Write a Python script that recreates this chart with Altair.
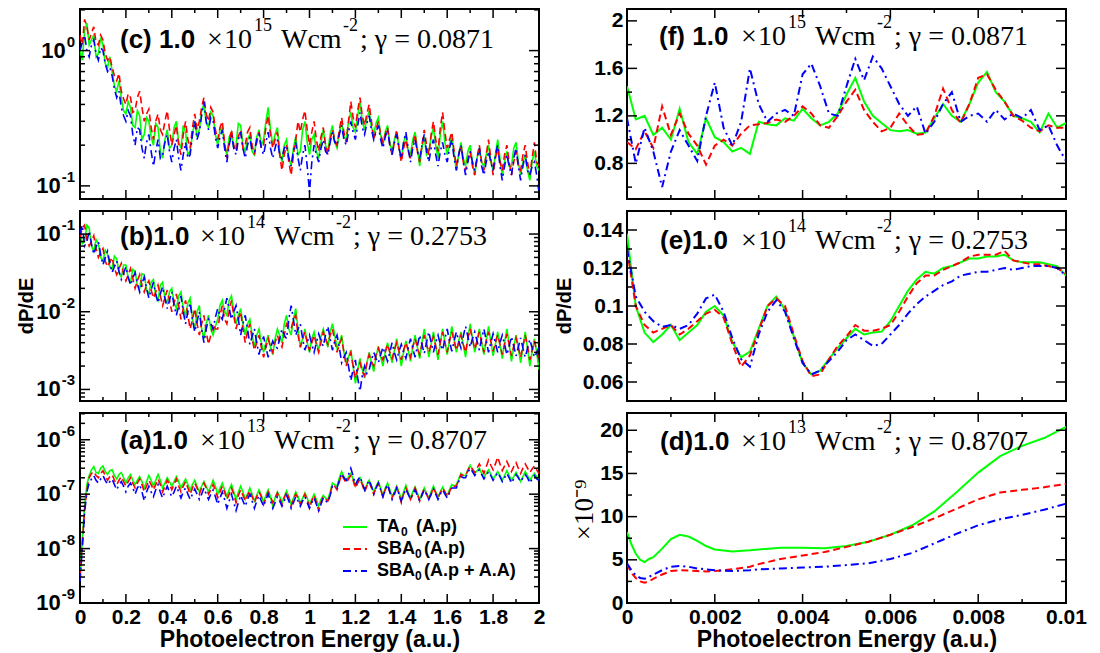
import altair as alt
import pandas as pd

# ---------------- x grids ----------------
x_left = [round(i * 0.01, 2) for i in range(201)]
x_fe = [round(i * 0.0002, 4) for i in range(51)]
x_d = [0, 0.0001, 0.0002, 0.0003, 0.0004, 0.0005, 0.0006, 0.0008, 0.001, 0.0012,
       0.0014, 0.0016, 0.0018, 0.002, 0.0024, 0.0028, 0.003, 0.0035, 0.004, 0.0045,
       0.005, 0.0055, 0.006, 0.0065, 0.007, 0.0075, 0.008, 0.0085, 0.009, 0.0095, 0.01]

# ---------------- panel (c) 1e15 ----------------
c_ta = [1.0, 0.85, 1.4, 1.6, 1.1, 1.2, 1.3, 0.9, 0.95, 1.25,
        1.1, 0.8, 0.75, 0.9, 0.7, 0.55, 0.5, 0.6, 0.45, 0.36,
        0.34, 0.42, 0.38, 0.28, 0.27, 0.36, 0.33, 0.22, 0.24, 0.32,
        0.3, 0.23, 0.2, 0.29, 0.27, 0.18, 0.16, 0.22, 0.26, 0.19,
        0.2, 0.27, 0.3, 0.21, 0.19, 0.28, 0.25, 0.17, 0.18, 0.24,
        0.3, 0.23, 0.26, 0.36, 0.4, 0.29, 0.27, 0.35, 0.33, 0.24,
        0.2, 0.26, 0.27, 0.2, 0.17, 0.23, 0.25, 0.19, 0.2, 0.29,
        0.28, 0.2, 0.18, 0.22, 0.24, 0.18, 0.17, 0.23, 0.26, 0.2,
        0.22, 0.3, 0.38, 0.26, 0.2, 0.24, 0.27, 0.18, 0.15, 0.2,
        0.22, 0.16, 0.14, 0.19, 0.23, 0.17, 0.18, 0.26, 0.3, 0.21,
        0.17, 0.22, 0.24, 0.18, 0.16, 0.21, 0.26, 0.2, 0.18, 0.24,
        0.28, 0.21, 0.19, 0.25, 0.3, 0.23, 0.22, 0.3, 0.35, 0.27,
        0.25, 0.33, 0.42, 0.3, 0.26, 0.31, 0.36, 0.27, 0.24, 0.29,
        0.32, 0.24, 0.2, 0.25, 0.28, 0.21, 0.18, 0.22, 0.25, 0.19,
        0.16, 0.21, 0.24, 0.18, 0.17, 0.22, 0.25, 0.19, 0.14, 0.19,
        0.23, 0.17, 0.18, 0.23, 0.27, 0.2, 0.16, 0.24, 0.3, 0.21,
        0.17, 0.2, 0.24, 0.17, 0.13, 0.17, 0.21, 0.16, 0.14, 0.18,
        0.2, 0.15, 0.12, 0.16, 0.19, 0.15, 0.14, 0.17, 0.2, 0.15,
        0.13, 0.17, 0.22, 0.16, 0.12, 0.15, 0.18, 0.14, 0.14, 0.19,
        0.21, 0.15, 0.12, 0.15, 0.17, 0.13, 0.11, 0.15, 0.18, 0.14,
        0.13]
c_sba = [1.3, 1.1, 1.7, 1.5, 1.2, 1.35, 1.5, 1.15, 1.1, 1.3,
         1.2, 0.95, 0.85, 0.9, 0.75, 0.65, 0.6, 0.68, 0.5, 0.44,
         0.4, 0.48, 0.45, 0.35, 0.36, 0.45, 0.5, 0.38, 0.3, 0.34,
         0.37, 0.27, 0.22, 0.3, 0.34, 0.26, 0.24, 0.3, 0.36, 0.26,
         0.2, 0.24, 0.28, 0.2, 0.17, 0.24, 0.3, 0.22, 0.19, 0.27,
         0.34, 0.26, 0.3, 0.38, 0.45, 0.34, 0.3, 0.38, 0.35, 0.26,
         0.22, 0.27, 0.3, 0.21, 0.16, 0.21, 0.26, 0.2, 0.18, 0.23,
         0.26, 0.19, 0.2, 0.25, 0.27, 0.2, 0.17, 0.21, 0.25, 0.19,
         0.2, 0.27, 0.33, 0.24, 0.19, 0.22, 0.25, 0.17, 0.13, 0.17,
         0.2, 0.15, 0.12, 0.17, 0.22, 0.3, 0.25, 0.31, 0.36, 0.26,
         0.2, 0.25, 0.3, 0.22, 0.18, 0.23, 0.27, 0.2, 0.17, 0.22,
         0.26, 0.22, 0.2, 0.26, 0.32, 0.25, 0.21, 0.3, 0.42, 0.32,
         0.27, 0.36, 0.45, 0.33, 0.28, 0.34, 0.4, 0.3, 0.22, 0.26,
         0.3, 0.24, 0.21, 0.24, 0.27, 0.2, 0.17, 0.21, 0.26, 0.19,
         0.15, 0.19, 0.22, 0.18, 0.16, 0.2, 0.24, 0.18, 0.15, 0.2,
         0.26, 0.2, 0.17, 0.24, 0.3, 0.22, 0.18, 0.27, 0.35, 0.25,
         0.19, 0.22, 0.25, 0.18, 0.14, 0.17, 0.2, 0.15, 0.13, 0.16,
         0.18, 0.14, 0.12, 0.16, 0.2, 0.15, 0.13, 0.17, 0.22, 0.16,
         0.12, 0.16, 0.19, 0.15, 0.13, 0.17, 0.2, 0.15, 0.12, 0.15,
         0.18, 0.14, 0.13, 0.17, 0.2, 0.15, 0.12, 0.16, 0.21, 0.15,
         0.14]
c_sbaa = [1.0, 1.15, 1.3, 1.0, 0.9, 1.1, 1.2, 0.95, 0.85, 1.05,
          1.0, 0.8, 0.7, 0.75, 0.65, 0.52, 0.45, 0.5, 0.38, 0.33,
          0.3, 0.36, 0.33, 0.24, 0.2, 0.27, 0.26, 0.19, 0.16, 0.21,
          0.24, 0.18, 0.14, 0.18, 0.22, 0.16, 0.17, 0.21, 0.24, 0.18,
          0.15, 0.19, 0.22, 0.16, 0.13, 0.17, 0.21, 0.16, 0.17, 0.24,
          0.3, 0.22, 0.25, 0.33, 0.42, 0.3, 0.26, 0.32, 0.3, 0.23,
          0.19, 0.23, 0.26, 0.19, 0.15, 0.2, 0.24, 0.19, 0.17, 0.22,
          0.25, 0.19, 0.16, 0.2, 0.23, 0.18, 0.18, 0.22, 0.24, 0.19,
          0.17, 0.21, 0.25, 0.19, 0.16, 0.19, 0.22, 0.17, 0.16, 0.19,
          0.2, 0.16, 0.14, 0.18, 0.21, 0.16, 0.13, 0.17, 0.2, 0.14,
          0.09, 0.15, 0.2, 0.17, 0.15, 0.19, 0.22, 0.18, 0.17, 0.21,
          0.25, 0.21, 0.2, 0.24, 0.28, 0.22, 0.2, 0.25, 0.3, 0.25,
          0.22, 0.28, 0.35, 0.27, 0.24, 0.29, 0.33, 0.26, 0.22, 0.25,
          0.28, 0.22, 0.19, 0.23, 0.26, 0.2, 0.17, 0.21, 0.24, 0.19,
          0.16, 0.21, 0.25, 0.19, 0.15, 0.19, 0.22, 0.18, 0.16, 0.2,
          0.24, 0.18, 0.15, 0.19, 0.22, 0.17, 0.14, 0.18, 0.21, 0.17,
          0.15, 0.19, 0.22, 0.16, 0.13, 0.17, 0.2, 0.15, 0.12, 0.15,
          0.18, 0.15, 0.13, 0.16, 0.19, 0.14, 0.12, 0.15, 0.18, 0.15,
          0.13, 0.17, 0.2, 0.14, 0.11, 0.14, 0.17, 0.14, 0.12, 0.16,
          0.19, 0.14, 0.11, 0.14, 0.17, 0.13, 0.12, 0.14, 0.15, 0.12,
          0.09]

# ---------------- panel (b) 1e14 (units of 1e-3) ----------------
b_ta = [110, 75, 80, 130, 120, 70, 60, 85, 75, 50,
        45, 62, 55, 38, 35, 52, 48, 32, 28, 40,
        40, 27, 24, 35, 33, 22, 20, 31, 30, 19,
        17, 24, 26, 16, 14, 22, 24, 15, 13, 18,
        20, 13, 11, 16, 18, 11, 9, 13, 15, 8,
        6, 10, 12, 6, 4.5, 7, 9, 6, 5, 6.5,
        8, 12, 14, 10, 9, 14, 16, 10, 7, 9,
        11, 7, 5, 7, 8, 5, 3.5, 5, 6, 4,
        3, 4, 5, 3.5, 2.8, 4.5, 6, 5, 4, 7,
        9, 6, 5, 8, 11, 6, 3.5, 4.5, 6, 4,
        3, 4.5, 5.5, 4, 3.2, 4.8, 6, 4.5, 3.5, 5.5,
        7, 5, 3.4, 4, 5, 3, 2.2, 2.6, 3.2, 2,
        1.2, 1.8, 2.5, 1.8, 1.4, 2.2, 3, 2.2, 1.7, 2.6,
        3.6, 2.6, 2, 3, 4, 3, 2.2, 3.2, 4.5, 3,
        2, 3, 4.2, 3.2, 2.3, 3.5, 5, 3.5, 2.5, 4,
        6, 4, 2.6, 3.8, 5.5, 3.6, 2.4, 4, 6, 4,
        2.8, 4.2, 6.5, 4.5, 3, 4.2, 5.5, 3.8, 2.6, 4.5,
        7, 4.5, 3, 4.2, 6, 4, 2.8, 4.3, 6.5, 4.2,
        2.7, 3.8, 5.5, 3.8, 2.5, 4, 6, 3.8, 2.3, 3.5,
        5, 3.4, 2.2, 3.5, 5.5, 3.4, 2, 3, 4.5, 3,
        1.8]
b_sba = [90, 120, 130, 85, 70, 80, 95, 65, 50, 58,
         65, 45, 38, 44, 50, 36, 30, 36, 42, 31,
         25, 30, 36, 27, 20, 25, 30, 22, 18, 22,
         25, 19, 15, 18, 22, 16, 12, 15, 19, 14,
         10, 13, 17, 12, 8, 11, 14, 9, 6, 8,
         11, 7, 5, 7, 9, 5.5, 3.8, 5, 7, 6,
         6, 9, 12, 8, 7, 10, 14, 9, 6, 8,
         10, 6, 4, 5.5, 7, 4.5, 3.2, 4, 5, 3.5,
         2.6, 3.5, 4.5, 3.5, 3, 4, 5, 4, 3.5, 5,
         7, 6.5, 6, 8, 9, 5, 3.5, 4.5, 5.5, 4,
         3.2, 4, 5, 3.8, 3, 4, 5.5, 4.5, 3.8, 5,
         6, 4.2, 3, 3.8, 4.5, 3, 2, 2.5, 3, 2,
         1.4, 1.8, 2.2, 1.7, 1.5, 2.2, 2.8, 2.3, 2, 2.8,
         3.4, 2.8, 2.4, 3, 3.8, 3, 2.5, 3.2, 4, 3.1,
         2.4, 3.2, 4, 3.2, 2.6, 3.5, 4.5, 3.5, 2.8, 3.8,
         5, 3.8, 3, 3.8, 4.8, 3.6, 2.8, 4, 5.5, 4,
         3, 4.2, 5.5, 4.2, 3.2, 4, 5, 3.8, 3, 4.5,
         6, 4.5, 3.3, 4.2, 5.5, 4, 3, 4.2, 5.5, 4.2,
         3.1, 4, 5, 3.8, 2.8, 3.8, 5.2, 3.8, 2.7, 3.6,
         4.6, 3.5, 2.6, 3.6, 5, 3.6, 2.4, 3.2, 4.2, 3.1,
         2.3]
b_sbaa = [100, 130, 70, 80, 110, 75, 55, 68, 80, 55,
          40, 50, 60, 42, 32, 38, 45, 33, 26, 31,
          38, 28, 22, 27, 32, 23, 18, 23, 28, 20,
          15, 19, 24, 17, 13, 17, 21, 15, 11, 14,
          18, 12, 9, 12, 16, 10, 7, 10, 13, 8,
          5.5, 7.5, 10, 6, 4, 6, 8, 7, 6, 8.5,
          11, 9, 8, 11, 15, 11, 8, 10, 12, 8,
          5, 7, 9, 6, 3.8, 4.8, 6, 4, 2.8, 3.8,
          4.8, 3.5, 2.6, 3.4, 4.2, 3.6, 3.4, 4.5, 6, 5,
          4.5, 8, 12, 8, 5, 6, 7, 4.5, 3.2, 4,
          5, 3.8, 3, 4, 5.2, 4.2, 3.6, 5, 6.5, 4.5,
          3.2, 4.2, 5, 3.5, 2.2, 2.6, 3, 2, 1.3, 1.8,
          2.4, 1.4, 0.95, 1.5, 2, 1.6, 1.8, 2.4, 3, 2.5,
          2.2, 2.8, 3.5, 2.8, 2.3, 3, 4, 3, 2.4, 3.1,
          3.8, 3, 2.5, 3.4, 4.5, 3.4, 2.6, 3.6, 5, 3.8,
          2.9, 4, 5.5, 4, 3, 4, 5, 3.8, 3.2, 4.5,
          6, 4.2, 3.1, 4.2, 5.5, 4.2, 3.4, 4.8, 6.5, 4.8,
          3.5, 4.5, 5.5, 4.2, 3.2, 4.5, 6, 4.3, 3, 4,
          5.2, 4, 3, 4, 5, 3.8, 2.8, 3.6, 4.8, 3.6,
          2.7, 3.5, 4.6, 3.4, 2.6, 3.4, 4.4, 3.4, 2.6, 3,
          3.5]

# ---------------- panel (a) 1e13 (units of 1e-7) ----------------
a_ta = [0.03, 0.15, 0.6, 1.5, 2.2, 2.8, 3.2, 2.5, 2.4, 3.0,
        3.3, 2.6, 2.3, 2.7, 2.8, 2.2, 1.9, 2.3, 2.5, 2.0,
        1.6, 2.0, 2.3, 1.8, 1.5, 1.8, 2.1, 1.7, 1.3, 1.7,
        2.2, 1.8, 1.4, 1.8, 2.3, 1.8, 1.3, 1.6, 2.0, 1.7,
        1.4, 1.7, 2.1, 1.7, 1.3, 1.6, 1.9, 1.5, 1.2, 1.5,
        1.8, 1.4, 1.1, 1.4, 1.7, 1.4, 1.1, 1.4, 1.8, 1.4,
        1.0, 1.3, 1.6, 1.2, 0.9, 1.2, 1.5, 1.1, 0.8, 1.1,
        1.4, 1.1, 0.8, 1.0, 1.3, 1.0, 0.75, 0.95, 1.2, 0.95,
        0.7, 0.95, 1.2, 0.9, 0.6, 0.85, 1.1, 0.9, 0.7, 0.9,
        1.15, 0.9, 0.65, 0.85, 1.1, 0.9, 0.7, 0.85, 1.05, 0.85,
        0.65, 0.8, 1.0, 0.8, 0.6, 0.8, 0.95, 0.85, 0.8, 1.1,
        1.6, 1.5, 1.4, 2.0, 2.6, 2.1, 1.8, 2.1, 2.4, 1.9,
        1.4, 1.7, 2.0, 1.6, 1.2, 1.5, 1.8, 1.4, 1.1, 1.4,
        1.7, 1.3, 0.95, 1.3, 1.6, 1.2, 0.9, 1.1, 1.4, 1.1,
        0.8, 1.1, 1.45, 1.1, 0.85, 1.1, 1.35, 1.05, 0.8, 1.0,
        1.3, 1.05, 0.85, 1.1, 1.4, 1.1, 0.9, 1.1, 1.35, 1.1,
        0.95, 1.2, 1.5, 1.4, 1.5, 1.9, 2.4, 2.2, 2.2, 2.8,
        3.4, 2.8, 2.4, 2.7, 3.0, 2.4, 2.0, 2.4, 2.8, 2.3,
        1.9, 2.2, 2.6, 2.2, 1.8, 2.2, 2.7, 2.2, 1.8, 2.1,
        2.5, 2.1, 1.7, 2.1, 2.6, 2.2, 1.8, 2.1, 2.4, 2.1,
        1.9]
a_sba = [0.03, 0.12, 0.5, 1.2, 2.0, 2.4, 2.6, 2.2, 2.0, 2.4,
         2.7, 2.2, 1.8, 2.1, 2.3, 1.8, 1.5, 1.8, 2.1, 1.7,
         1.4, 1.7, 2.0, 1.6, 1.3, 1.6, 1.9, 1.5, 1.1, 1.4,
         1.8, 1.5, 1.2, 1.5, 1.9, 1.5, 1.1, 1.4, 1.8, 1.5,
         1.2, 1.5, 1.9, 1.4, 1.1, 1.4, 1.7, 1.3, 1.0, 1.3,
         1.6, 1.3, 1.0, 1.3, 1.6, 1.3, 1.0, 1.2, 1.5, 1.2,
         0.85, 1.1, 1.4, 1.1, 0.8, 1.0, 1.3, 1.0, 0.7, 0.95,
         1.2, 0.95, 0.75, 0.95, 1.15, 0.9, 0.7, 0.9, 1.1, 0.9,
         0.65, 0.85, 1.1, 0.9, 0.7, 0.85, 1.05, 0.85, 0.65, 0.85,
         1.1, 0.85, 0.6, 0.8, 1.0, 0.85, 0.65, 0.8, 1.0, 0.8,
         0.55, 0.75, 0.95, 0.7, 0.5, 0.7, 0.9, 0.8, 0.75, 1.0,
         1.5, 1.4, 1.2, 1.7, 2.3, 1.9, 1.6, 1.9, 2.2, 1.8,
         1.3, 1.6, 1.9, 1.5, 1.1, 1.4, 1.7, 1.3, 1.0, 1.3,
         1.6, 1.2, 0.9, 1.2, 1.5, 1.1, 0.85, 1.1, 1.35, 1.0,
         0.7, 1.0, 1.3, 1.0, 0.8, 1.0, 1.3, 1.0, 0.75, 1.0,
         1.25, 1.0, 0.8, 1.0, 1.3, 1.05, 0.85, 1.05, 1.3, 1.1,
         0.9, 1.1, 1.4, 1.4, 1.4, 1.8, 2.3, 2.2, 2.2, 2.7,
         3.3, 2.9, 2.5, 3.0, 3.6, 3.0, 2.4, 3.2, 4.2, 3.4,
         2.8, 3.6, 4.8, 3.6, 2.7, 3.3, 4.0, 3.2, 2.6, 3.2,
         3.8, 3.0, 2.4, 3.0, 3.6, 3.0, 2.5, 2.9, 3.3, 2.8,
         2.4]
a_sbaa = [0.025, 0.1, 0.45, 1.1, 1.6, 1.9, 2.2, 1.8, 1.6, 1.9,
          2.2, 1.8, 1.5, 1.7, 1.9, 1.5, 1.2, 1.5, 1.7, 1.4,
          1.1, 1.4, 1.6, 1.3, 1.0, 1.3, 1.5, 1.1, 0.75, 1.1,
          1.4, 1.1, 0.9, 1.2, 1.5, 1.1, 0.85, 1.1, 1.4, 1.1,
          0.9, 1.1, 1.4, 1.1, 0.85, 1.1, 1.3, 1.0, 0.8, 1.0,
          1.25, 1.0, 0.8, 1.0, 1.3, 1.0, 0.8, 1.0, 1.2, 0.9,
          0.65, 0.85, 1.1, 0.8, 0.55, 0.75, 1.0, 0.7, 0.5, 0.7,
          0.95, 0.75, 0.6, 0.8, 1.0, 0.75, 0.55, 0.75, 0.95, 0.75,
          0.6, 0.8, 1.0, 0.75, 0.55, 0.7, 0.9, 0.75, 0.6, 0.75,
          0.95, 0.75, 0.55, 0.7, 0.9, 0.75, 0.6, 0.75, 0.9, 0.7,
          0.55, 0.7, 0.85, 0.65, 0.5, 0.65, 0.85, 0.75, 0.7, 0.95,
          1.4, 1.35, 1.3, 1.8, 2.4, 2.0, 1.8, 2.3, 3.0, 2.2,
          1.5, 1.8, 2.1, 1.6, 1.2, 1.5, 1.8, 1.4, 1.0, 1.3,
          1.6, 1.2, 0.9, 1.2, 1.5, 1.1, 0.8, 1.0, 1.3, 1.0,
          0.75, 1.0, 1.25, 1.0, 0.8, 1.0, 1.2, 0.95, 0.75, 0.95,
          1.2, 1.0, 0.8, 1.0, 1.25, 1.0, 0.8, 1.0, 1.2, 1.0,
          0.85, 1.05, 1.3, 1.3, 1.3, 1.7, 2.1, 2.0, 2.0, 2.5,
          3.0, 2.6, 2.2, 2.5, 2.8, 2.3, 1.9, 2.2, 2.6, 2.2,
          1.8, 2.1, 2.5, 2.1, 1.7, 2.0, 2.4, 2.0, 1.6, 1.9,
          2.3, 2.0, 1.7, 2.0, 2.3, 2.0, 1.6, 1.9, 2.2, 1.9,
          1.8]

# ---------------- panel (f) 1e15, low energy ----------------
f_ta = [1.45, 1.17, 1.2, 1.04, 1.1, 1.0, 1.26, 0.98, 0.88, 1.18,
        1.02, 0.98, 0.9, 0.93, 0.88, 1.15, 1.13, 1.12, 1.18, 1.16,
        1.26, 1.18, 1.12, 1.15, 1.22, 1.38, 1.52, 1.32, 1.2, 1.14,
        1.08, 1.07, 1.08, 1.05, 1.06, 1.18, 1.3, 1.2, 1.15, 1.3,
        1.48, 1.57, 1.4, 1.32, 1.2, 1.18, 1.15, 1.06, 1.22, 1.1, 1.14]
f_sba = [0.98, 0.92, 1.07, 0.93, 1.28, 1.04, 1.22, 1.05, 0.95, 0.79,
         0.95, 1.0, 0.95, 1.05, 1.12, 1.13, 1.14, 1.17, 1.15, 1.2,
         1.28, 1.22, 1.12, 1.1, 1.2, 1.32, 1.42, 1.25, 1.15, 1.07,
         1.1, 1.22, 1.12, 1.04, 1.05, 1.2, 1.43, 1.25, 1.14, 1.3,
         1.52, 1.55, 1.42, 1.32, 1.2, 1.16, 1.1, 1.07, 1.12, 1.1, 1.1]
f_sbaa = [1.18, 0.8, 1.1, 0.9, 0.6, 0.9, 1.08, 0.95, 0.82, 1.2,
          1.48, 1.1, 0.95, 1.15, 1.6, 1.3, 1.15, 1.22, 1.25, 1.2,
          1.55, 1.64, 1.45, 1.22, 1.2, 1.45, 1.68, 1.5, 1.7, 1.6,
          1.45, 1.3, 1.2, 1.28, 1.05, 1.15, 1.3, 1.4, 1.15, 1.2,
          1.22, 1.15, 1.25, 1.17, 1.22, 1.18, 1.25, 1.08, 1.12, 0.95, 0.82]

# ---------------- panel (e) 1e14, low energy ----------------
e_ta = [0.138, 0.1, 0.086, 0.081, 0.085, 0.09, 0.082, 0.086, 0.09, 0.097,
        0.1, 0.095, 0.081, 0.073, 0.076, 0.088, 0.1, 0.105, 0.098, 0.084,
        0.07, 0.064, 0.066, 0.072, 0.078, 0.083, 0.088, 0.085, 0.086, 0.0865,
        0.092, 0.1, 0.108, 0.114, 0.118, 0.117, 0.12, 0.121, 0.123, 0.125,
        0.125, 0.126, 0.126, 0.127, 0.124, 0.123, 0.123, 0.123, 0.122, 0.121, 0.116]
e_sba = [0.13, 0.1, 0.09, 0.086, 0.088, 0.09, 0.085, 0.088, 0.092, 0.096,
         0.098, 0.094, 0.08, 0.068, 0.074, 0.087, 0.1, 0.104, 0.1, 0.085,
         0.071, 0.063, 0.064, 0.072, 0.079, 0.084, 0.09, 0.087, 0.087, 0.088,
         0.09, 0.097, 0.105, 0.112, 0.116, 0.116, 0.119, 0.121, 0.123, 0.126,
         0.127, 0.127, 0.127, 0.129, 0.124, 0.123, 0.122, 0.122, 0.121, 0.12, 0.117]
e_sbaa = [0.13, 0.105, 0.097, 0.092, 0.089, 0.09, 0.088, 0.09, 0.096, 0.104,
          0.106, 0.097, 0.083, 0.072, 0.068, 0.085, 0.097, 0.103, 0.097, 0.083,
          0.07, 0.064, 0.066, 0.071, 0.076, 0.082, 0.085, 0.082, 0.079, 0.08,
          0.085, 0.09, 0.096, 0.101, 0.105, 0.108, 0.111, 0.113, 0.116, 0.117,
          0.118, 0.118, 0.119, 0.12, 0.119, 0.12, 0.121, 0.121, 0.121, 0.12, 0.116]

# ---------------- panel (d) 1e13, low energy (units of 1e-9) ----------------
d_ta = [8.2, 6.8, 5.7, 5.0, 4.75, 5.1, 5.3, 6.3, 7.4, 7.9, 7.7, 7.2, 6.6, 6.2, 5.95,
        6.1, 6.2, 6.4, 6.4, 6.35, 6.6, 7.1, 7.9, 9.0, 10.6, 12.8, 15.1, 17.0, 18.2, 19.1, 20.4]
d_sba = [4.5, 3.5, 2.9, 2.5, 2.35, 2.5, 2.8, 3.3, 3.7, 3.8, 3.75, 3.7, 3.65, 3.7, 3.9,
         4.2, 4.5, 5.1, 5.5, 5.9, 6.5, 7.1, 7.9, 8.8, 9.8, 10.9, 12.0, 12.8, 13.1, 13.4, 13.8]
d_sbaa = [4.6, 3.8, 3.2, 2.9, 2.8, 3.0, 3.3, 3.8, 4.2, 4.3, 4.2, 4.0, 3.9, 3.8, 3.7,
          3.8, 3.9, 4.0, 4.1, 4.2, 4.4, 4.6, 5.1, 5.8, 6.9, 8.0, 9.0, 9.7, 10.2, 10.8, 11.5]

# ---------------- tick values ----------------
xl_major = [0, 0.2, 0.4, 0.6, 0.8, 1.0, 1.2, 1.4, 1.6, 1.8, 2.0]
xl_minor = [0.1, 0.3, 0.5, 0.7, 0.9, 1.1, 1.3, 1.5, 1.7, 1.9]
xr_major = [0, 0.002, 0.004, 0.006, 0.008, 0.01]
xr_minor = [0.001, 0.003, 0.005, 0.007, 0.009]
c_exps = [-1, 0]
c_minor = [0.09, 0.2, 0.3, 0.4, 0.5, 0.6, 0.7, 0.8, 0.9, 2.0]
b_exps = [-3, -2, -1]
b_minor = [0.0008, 0.0009, 0.002, 0.003, 0.004, 0.005, 0.006, 0.007, 0.008, 0.009,
           0.02, 0.03, 0.04, 0.05, 0.06, 0.07, 0.08, 0.09]
a_exps = [-9, -8, -7, -6]
a_minor = [2e-9, 3e-9, 4e-9, 5e-9, 6e-9, 7e-9, 8e-9, 9e-9,
           2e-8, 3e-8, 4e-8, 5e-8, 6e-8, 7e-8, 8e-8, 9e-8,
           2e-7, 3e-7, 4e-7, 5e-7, 6e-7, 7e-7, 8e-7, 9e-7, 2e-6, 3e-6]
f_major = [0.8, 1.2, 1.6, 2.0]
f_minor = [0.6, 1.0, 1.4, 1.8]
e_major = [0.06, 0.08, 0.1, 0.12, 0.14]
e_minor = [0.07, 0.09, 0.11, 0.13]
d_major = [0, 5, 10, 15, 20]
d_minor = [2.5, 7.5, 12.5, 17.5]

# legend names: (base, subscript, rest, extra gap before rest)
legend_names = [("TA", "0", "(A.p)", 6), ("SBA", "0", "(A.p)", 0), ("SBA", "0", "(A.p + A.A)", 0)]

GREEN, RED, BLUE = "#00ff00", "#ff0000", "#0000ff"
SANS, SERIF = "Liberation Sans", "Liberation Serif"
WL, WR, H = 459, 439, 190
FS = 21          # tick label size
dummy = pd.DataFrame({"k": [0]})


def txt(s, x, y, size, font=SERIF, weight="normal", align="left", angle=0):
    return alt.Chart(dummy).mark_text(
        text=s, font=font, fontSize=size, fontWeight=weight, align=align,
        baseline="middle", angle=angle, color="black"
    ).encode(x=alt.value(x), y=alt.value(y))


def annotation(bold, exp, gamma, x0, E, y):
    return [
        txt(bold, x0, y, 26, SANS, "bold"),
        txt("\u00d7", E + 10, y, 28),
        txt("10", E + 27, y, 28),
        txt(exp, E + 57, y - 14, 18),
        txt("Wcm", E + 84, y, 28),
        txt("-2", E + 146, y - 14, 18),
        txt("; \u03b3 = " + gamma, E + 163, y, 28),
    ]


def panel(W, xs, series, xdom, ydom, ylog, xmaj, xmin, ymaj, ymin,
          exps=None, bottom=False, extra=()):
    xsc = alt.Scale(domain=xdom, nice=False, zero=False)
    if ylog:
        ysc = alt.Scale(type="log", domain=ydom, nice=False)
    else:
        ysc = alt.Scale(domain=ydom, nice=False, zero=False)
    if bottom:
        xax = alt.Axis(values=xmaj, format="~g", title="Photoelectron Energy (a.u.)",
                       labelFlush=False, labelPadding=3, titlePadding=1)
    else:
        xax = None
    if ylog:
        yax = alt.Axis(values=ymaj, labels=False, title=None)
    else:
        yax = alt.Axis(values=ymaj, format="~g", title=None, labelPadding=4)
    xenc = alt.X("x:Q", scale=xsc, axis=xax)
    yenc = alt.Y("y:Q", scale=ysc, axis=yax)
    layers = []
    for vals, color, dash, sw in series:
        df = pd.DataFrame({"x": xs, "y": vals})
        mk = dict(color=color, strokeWidth=sw, clip=True)
        if dash:
            mk["strokeDash"] = dash
        layers.append(alt.Chart(df).mark_line(**mk).encode(x=xenc, y=yenc))
    # inward ticks on all four sides
    for vals, L in ((xmaj, 9), (xmin, 4)):
        df = pd.DataFrame({"x": vals})
        layers.append(alt.Chart(df).mark_rule(color="black", strokeWidth=1.5).encode(
            x=xenc, y=alt.value(H), y2=alt.value(H - L)))
        layers.append(alt.Chart(df).mark_rule(color="black", strokeWidth=1.5).encode(
            x=xenc, y=alt.value(0), y2=alt.value(L)))
    for vals, L in ((ymaj, 10), (ymin, 5)):
        df = pd.DataFrame({"y": vals})
        layers.append(alt.Chart(df).mark_rule(color="black", strokeWidth=1.5).encode(
            y=yenc, x=alt.value(0), x2=alt.value(L)))
        layers.append(alt.Chart(df).mark_rule(color="black", strokeWidth=1.5).encode(
            y=yenc, x=alt.value(W), x2=alt.value(W - L)))
    # power-of-ten labels for log axes: "10" plus a raised exponent
    if exps:
        for e in exps:
            s = str(e)
            w_exp = sum(0.333 if ch == "-" else 0.556 for ch in s) * 15
            df = pd.DataFrame({"y": [10.0 ** e]})
            layers.append(alt.Chart(df).mark_text(
                text="10", font=SANS, fontWeight="bold", fontSize=22, align="right",
                baseline="middle", color="black").encode(
                x=alt.value(-5 - w_exp - 1), y=yenc))
            layers.append(alt.Chart(df).mark_text(
                text=s, font=SANS, fontWeight="bold", fontSize=15, align="right",
                baseline="middle", dy=-9, color="black").encode(
                x=alt.value(-5), y=yenc))
    layers.extend(extra)
    return alt.layer(*layers).properties(width=W, height=H)


LW = 1.6
RW = 2.0
DASH = [7, 4]
DASHDOT = [8, 4, 2, 4]

a_scale = 1e-7
b_scale = 1e-3

pc = panel(WL, x_left,
           [(c_ta, GREEN, None, LW), (c_sba, RED, DASH, LW), (c_sbaa, BLUE, DASHDOT, LW)],
           [0, 2], [0.08, 2.03], True, xl_major, xl_minor,
           [10.0 ** e for e in c_exps], c_minor, exps=c_exps,
           extra=annotation("(c) 1.0", "15", "0.0871", 40, 117, 31))

pb = panel(WL, x_left,
           [([v * b_scale for v in b_ta], GREEN, None, LW),
            ([v * b_scale for v in b_sba], RED, DASH, LW),
            ([v * b_scale for v in b_sbaa], BLUE, DASHDOT, LW)],
           [0, 2], [0.00071, 0.198], True, xl_major, xl_minor,
           [10.0 ** e for e in b_exps], b_minor, exps=b_exps,
           extra=annotation("(b)1.0", "14", "0.2753", 40, 110, 26)
           + [txt("dP/dE", -53, 95, 20, SANS, "bold", "center", 270)])

# legend: sample line + name with subscript 0
legend = []
LEG_Y = [114, 136, 158]
for (base, sub, rest, gap), col, dash, yy in zip(legend_names, [GREEN, RED, BLUE],
                                                 [None, DASH, DASHDOT], LEG_Y):
    mk = dict(color=col, strokeWidth=2)
    if dash:
        mk["strokeDash"] = dash
    legend.append(alt.Chart(dummy).mark_rule(**mk).encode(
        x=alt.value(263), x2=alt.value(287), y=alt.value(yy)))
    w_base = sum({"T": 0.611, "A": 0.722, "S": 0.667, "B": 0.722}[ch] for ch in base) * 18
    legend.append(txt(base, 297, yy, 18, SANS, "bold"))
    legend.append(txt(sub, 297 + w_base, yy + 5, 12, SANS, "bold"))
    legend.append(txt(rest, 297 + w_base + 9 + gap, yy, 18, SANS, "bold"))

pa = panel(WL, x_left,
           [([v * a_scale for v in a_ta], GREEN, None, LW),
            ([v * a_scale for v in a_sba], RED, DASH, LW),
            ([v * a_scale for v in a_sbaa], BLUE, DASHDOT, LW)],
           [0, 2], [1e-9, 3.1e-6], True, xl_major, xl_minor,
           [10.0 ** e for e in a_exps], a_minor, exps=a_exps, bottom=True,
           extra=annotation("(a)1.0", "13", "0.8707", 40, 110, 28) + legend)

pf = panel(WR, x_fe,
           [(f_ta, GREEN, None, RW), (f_sba, RED, DASH, RW), (f_sbaa, BLUE, DASHDOT, RW)],
           [0, 0.01], [0.5, 2.1], False, xr_major, xr_minor, f_major, f_minor,
           extra=annotation("(f) 1.0", "15", "0.0871", 32, 104, 28))

pe = panel(WR, x_fe,
           [(e_ta, GREEN, None, RW), (e_sba, RED, DASH, RW), (e_sbaa, BLUE, DASHDOT, RW)],
           [0, 0.01], [0.05, 0.15], False, xr_major, xr_minor, e_major, e_minor,
           extra=annotation("(e)1.0", "14", "0.2753", 33, 104, 30)
           + [txt("dP/dE", -62, 95, 20, SANS, "bold", "center", 270)])

pd_ = panel(WR, x_d,
            [(d_ta, GREEN, None, RW), (d_sba, RED, DASH, RW), (d_sbaa, BLUE, DASHDOT, RW)],
            [0, 0.01], [0, 22], False, xr_major, xr_minor, d_major, d_minor, bottom=True,
            extra=annotation("(d)1.0", "13", "0.8707", 33, 104, 29)
            + [txt("\u00d710\u207b\u2079", -42, 97, 27, SERIF, "normal", "center", 270)])

chart = alt.concat(
    pc, pf, pb, pe, pa, pd_, columns=2,
    spacing={"row": 12, "column": 88}, bounds="flush", align="each"
).properties(
    padding={"left": 16, "top": 7, "right": 5, "bottom": 0}
).configure_view(
    stroke="black", strokeWidth=2
).configure_axis(
    labelFont=SANS, labelFontSize=FS, labelFontWeight="bold", labelColor="black",
    titleFont=SANS, titleFontSize=23, titleFontWeight="bold", titleColor="black",
    ticks=False, domain=False, grid=False
)

chart.save("out.html", embed_options={"renderer": "svg", "actions": False})
